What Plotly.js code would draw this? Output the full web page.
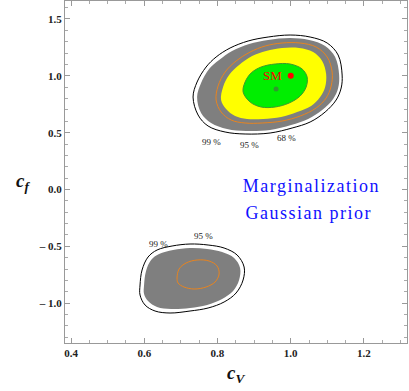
<!DOCTYPE html>
<html>
<head>
<meta charset="utf-8">
<script src="https://cdn.plot.ly/plotly-3.0.1.min.js"></script>
<style>
  body { margin: 0; background: #fff; }
  #plot { width: 409px; height: 391px; }
</style>
</head>
<body>
<div id="plot"></div>
<script>
// contours (cV, cf)
const upper99LineX = [0.7333, 0.7443, 0.7689, 0.7962, 0.8344, 0.8836, 0.9383, 0.9984, 1.053, 1.0995, 1.1295, 1.1404, 1.1377, 1.124, 1.094, 1.053, 1.0038, 0.9437, 0.8754, 0.8208, 0.7743, 0.747];
const upper99LineY = [0.8135, 0.9455, 1.0774, 1.1653, 1.2445, 1.3061, 1.3412, 1.3588, 1.3412, 1.2885, 1.1829, 1.007, 0.8927, 0.7872, 0.6816, 0.5937, 0.5409, 0.4969, 0.4881, 0.5057, 0.5585, 0.6552];

const upper99FillX = [0.7443, 0.7552, 0.777, 0.8044, 0.8399, 0.8863, 0.9383, 0.9984, 1.0503, 1.094, 1.1213, 1.1322, 1.1295, 1.1158, 1.0858, 1.0475, 1.0011, 0.9437, 0.8781, 0.8262, 0.7825, 0.7552];
const upper99FillY = [0.8135, 0.9367, 1.0598, 1.139, 1.2181, 1.2797, 1.3149, 1.3325, 1.3149, 1.2621, 1.1653, 1.007, 0.8927, 0.796, 0.6992, 0.62, 0.5673, 0.5233, 0.5145, 0.5321, 0.5849, 0.6728];

const upper95LineX = [0.7962, 0.8016, 0.8208, 0.8508, 0.8891, 0.9301, 0.9765, 1.0257, 1.0694, 1.0995, 1.1131, 1.1104, 1.0967, 1.0694, 1.0257, 0.9765, 0.9219, 0.8754, 0.8372, 0.8098];
const upper95LineY = [0.7872, 0.9103, 1.0334, 1.1302, 1.2093, 1.2621, 1.2885, 1.2885, 1.2533, 1.1653, 1.0334, 0.9103, 0.8047, 0.7168, 0.6464, 0.6024, 0.5849, 0.5849, 0.6113, 0.6816];

const upper95FillX = [0.8098, 0.8153, 0.8317, 0.859, 0.8945, 0.9328, 0.9765, 1.023, 1.0612, 1.0858, 1.0967, 1.094, 1.0803, 1.0557, 1.0175, 0.9738, 0.9246, 0.8809, 0.8481, 0.8235];
const upper95FillY = [0.7872, 0.9015, 1.007, 1.095, 1.1741, 1.2181, 1.2445, 1.2445, 1.2093, 1.1302, 1.0158, 0.9015, 0.8135, 0.7344, 0.6816, 0.6376, 0.62, 0.62, 0.6464, 0.708];

const upper68X = [0.87, 0.8754, 0.8918, 0.9191, 0.9574, 0.9984, 1.0311, 1.0448, 1.0421, 1.0257, 0.9956, 0.9574, 0.9191, 0.8891];
const upper68Y = [0.8575, 0.9455, 1.0246, 1.0774, 1.1038, 1.1038, 1.0598, 0.9894, 0.9015, 0.8223, 0.7608, 0.7256, 0.7256, 0.7696];

const lower99LineX = [0.5885, 0.594, 0.6104, 0.635, 0.676, 0.7251, 0.7743, 0.818, 0.8536, 0.8727, 0.8699, 0.8508, 0.818, 0.7743, 0.7251, 0.6705, 0.6295, 0.6022, 0.5885];
const lower99LineY = [-0.8399, -0.708, -0.5937, -0.5321, -0.4969, -0.4793, -0.4881, -0.5145, -0.5761, -0.6816, -0.7959, -0.9103, -0.9894, -1.0422, -1.0686, -1.0862, -1.0686, -1.0158, -0.9279];

const lower99FillX = [0.5995, 0.6049, 0.6186, 0.6404, 0.6787, 0.7251, 0.7716, 0.8126, 0.8454, 0.8617, 0.859, 0.8426, 0.8126, 0.7716, 0.7251, 0.6732, 0.635, 0.6104, 0.5995];
const lower99FillY = [-0.8399, -0.7168, -0.62, -0.5673, -0.5321, -0.5145, -0.5233, -0.5497, -0.6024, -0.6904, -0.7959, -0.8927, -0.9631, -1.0158, -1.0422, -1.051, -1.0334, -0.9807, -0.9191];

const lower95LineX = [0.6896, 0.6951, 0.7142, 0.7443, 0.777, 0.7989, 0.8044, 0.7934, 0.7689, 0.7361, 0.7087, 0.6923];
const lower95LineY = [-0.7784, -0.6992, -0.6464, -0.62, -0.6288, -0.6728, -0.7432, -0.8135, -0.8575, -0.8751, -0.8575, -0.8223];

const bestFit = [0.96, 0.884];
const smPoint = [1.0, 1.0];

const xTickVals = [0.4, 0.6, 0.8, 1.0, 1.2];
const xTickText = ['0.4', '0.6', '0.8', '1.0', '1.2'];
const yTickVals = [-1.0, -0.5, 0.0, 0.5, 1.0, 1.5];
const yTickText = ['\u2013 1.0', '\u2013 0.5', '0.0', '0.5', '1.0', '1.5'];

const pctLabels = ['99 %', '95 %', '68 %', '99 %', '95 %'];
const pctX = [0.784, 0.887, 0.989, 0.6385, 0.7615];
const pctY = [0.42, 0.391, 0.45, -0.479, -0.409];

function closed(arr) {
  return arr.concat([arr[0]]);
}

function bold(labels) {
  return labels.map(function (s) { return '<b>' + s + '</b>'; });
}

function region(xs, ys, fill, lineColor, lineWidth) {
  return {
    x: closed(xs), y: closed(ys),
    type: 'scatter', mode: 'lines',
    fill: fill ? 'toself' : 'none',
    fillcolor: fill || 'rgba(0,0,0,0)',
    line: { color: lineColor || 'rgba(0,0,0,0)', width: lineWidth || 0, shape: 'spline', smoothing: 1 },
    hoverinfo: 'skip'
  };
}

const traces = [
  region(upper99LineX, upper99LineY, null, '#000', 1),
  region(upper99FillX, upper99FillY, '#7f7f7f', null, 0),
  region(upper95LineX, upper95LineY, null, '#e8841f', 1),
  region(upper95FillX, upper95FillY, '#ffff00', null, 0),
  region(upper68X, upper68Y, '#00ee00', '#3c9a2c', 1),
  region(lower99LineX, lower99LineY, null, '#000', 1),
  region(lower99FillX, lower99FillY, '#7f7f7f', null, 0),
  region(lower95LineX, lower95LineY, null, '#e8841f', 1),
  {
    x: [bestFit[0]], y: [bestFit[1]], type: 'scatter', mode: 'markers',
    marker: { color: '#2e9a2e', size: 5 }, hoverinfo: 'skip'
  },
  {
    x: [smPoint[0]], y: [smPoint[1]], type: 'scatter', mode: 'markers',
    marker: { color: '#ff0000', size: 6 }, hoverinfo: 'skip'
  }
];

const annotations = [];
for (let i = 0; i < pctLabels.length; i++) {
  annotations.push({
    x: pctX[i], y: pctY[i], text: pctLabels[i], showarrow: false,
    font: { family: 'Liberation Serif', size: 9, color: '#222' }
  });
}
annotations.push({
  x: 0.951, y: 1.0, text: 'SM', showarrow: false,
  font: { family: 'Liberation Serif', size: 13, color: '#ff0000' }
});
annotations.push({
  x: 1.0557, y: 0.031, text: 'Marginalization', showarrow: false,
  font: { family: 'Liberation Serif', size: 18, color: '#1010ff' }
});
annotations.push({
  x: 1.0489, y: -0.207, text: 'Gaussian prior', showarrow: false,
  font: { family: 'Liberation Serif', size: 18, color: '#1010ff' }
});
// axis labels
annotations.push({
  xref: 'paper', yref: 'paper', x: 0.5, y: -0.092, yanchor: 'middle',
  text: '<b><i>c</i></b><sub><b><i>V</i></b></sub>', showarrow: false,
  font: { family: 'Liberation Serif', size: 19, color: '#111' }
});
annotations.push({
  xref: 'paper', yref: 'paper', x: -0.15, y: 0.47, yanchor: 'middle',
  text: '<b><i>c</i></b><sub><b><i>f</i></b></sub>', showarrow: false,
  font: { family: 'Liberation Serif', size: 19, color: '#111' }
});

const axisCommon = {
  showgrid: false, zeroline: false,
  showline: true, linecolor: '#999', linewidth: 1, mirror: 'allticks',
  ticks: 'inside', ticklen: 5, tickcolor: '#999', tickwidth: 1,
  tickmode: 'array',
  tickfont: { family: 'Liberation Serif', size: 11, color: '#222' }
};

const layout = {
  width: 409, height: 391,
  margin: { l: 65, r: 2, t: 1, b: 48 },
  paper_bgcolor: '#fff', plot_bgcolor: '#fff',
  showlegend: false, hovermode: false,
  xaxis: Object.assign({}, axisCommon, {
    range: [0.3836, 1.3175], tickvals: xTickVals, ticktext: bold(xTickText),
    minor: { dtick: 0.05, tick0: 0, ticks: 'inside', ticklen: 3, tickcolor: '#aaa' }
  }),
  yaxis: Object.assign({}, axisCommon, {
    range: [-1.35, 1.658], tickvals: yTickVals, ticktext: bold(yTickText),
    minor: { dtick: 0.1, tick0: 0, ticks: 'inside', ticklen: 3, tickcolor: '#aaa' }
  }),
  annotations: annotations
};

Plotly.newPlot('plot', traces, layout, { staticPlot: true }).then(function () {
  document.querySelectorAll('.annotation-text').forEach(function (t) {
    if (t.textContent === 'Marginalization' || t.textContent === 'Gaussian prior') {
      t.style.letterSpacing = '1.5px';
    }
  });
});
</script>
</body>
</html>
